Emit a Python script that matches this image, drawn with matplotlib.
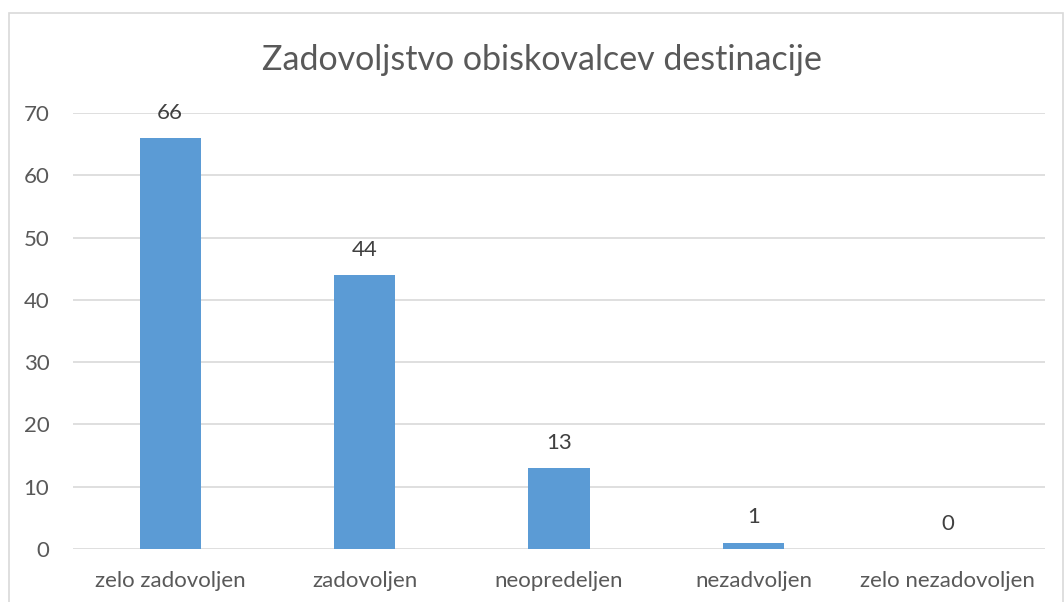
import matplotlib
matplotlib.use("Agg")
import matplotlib.pyplot as plt
from matplotlib.patches import Rectangle

categories = ["zelo zadovoljen", "zadovoljen", "neopredeljen", "nezadvoljen", "zelo nezadovoljen"]
values = [66, 44, 13, 1, 0]
yticks = [0, 10, 20, 30, 40, 50, 60, 70]

plt.rcParams['font.family'] = ['Lato', 'DejaVu Sans']
W, H = 1064, 602
fig = plt.figure(figsize=(W/100, H/100), dpi=100)
fig.patches.append(Rectangle((9/W, -0.1), (1063-9)/W, 1.1 - 13/H, transform=fig.transFigure,
                             fill=False, edgecolor='#d9d9d9', linewidth=1.2))

ax = fig.add_axes([73/W, 1-549/H, (1045-73)/W, (549-113)/H])
x = list(range(len(categories)))
ax.bar(x, values, width=0.314, color='#5b9bd5', zorder=3)
ax.set_xlim(-0.5, len(categories)-0.5)
ax.set_ylim(0, 70)
ax.set_yticks(yticks)
ax.set_xticks(x)
ax.set_xticklabels(categories)
ax.yaxis.grid(True, color='#d9d9d9', linewidth=1.2, zorder=0)
for s in ax.spines.values():
    s.set_visible(False)
ax.tick_params(axis='both', length=0, labelsize=16, colors='#595959')
ax.tick_params(axis='x', pad=16)
ax.tick_params(axis='y', pad=17)
for xi, v in zip(x, values):
    ax.annotate(str(v), (xi, v), xytext=(0, 11), textcoords='offset points',
                ha='center', va='bottom', fontsize=16, color='#404040')
fig.text(542/W, 1-60/H, "Zadovoljstvo obiskovalcev destinacije", ha='center', va='center',
         fontsize=24.5, color='#595959')
fig.savefig("out.png", dpi=100, facecolor='white')
